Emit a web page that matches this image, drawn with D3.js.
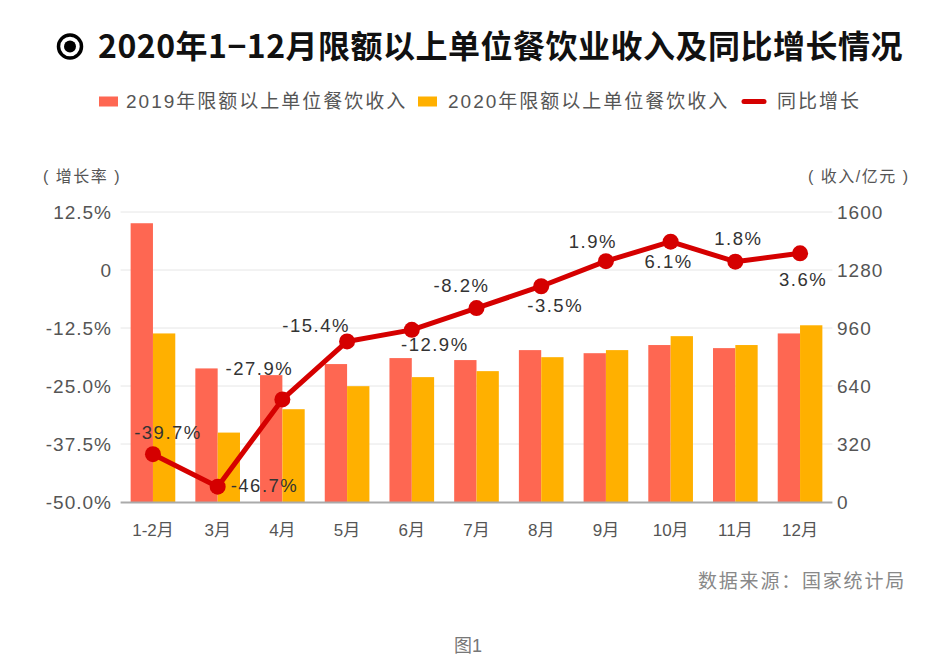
<!DOCTYPE html>
<html><head><meta charset="utf-8">
<script src="https://cdn.jsdelivr.net/npm/d3@7"></script>
<style>
html,body{margin:0;padding:0;background:#fff;}
svg{display:block;font-family:"Liberation Sans","Noto Sans CJK SC",sans-serif;}
</style></head>
<body><svg id="c" width="950" height="668"></svg>
<script>
const categories = ["1-2月","3月","4月","5月","6月","7月","8月","9月","10月","11月","12月"];
const income2019 = [1538, 737, 700, 761, 794, 783, 838, 821, 866, 849, 930];
const income2020 = [930, 383, 512, 639, 689, 722, 799, 838, 915, 866, 975];
const growth = [-39.7, -46.7, -27.9, -15.4, -12.9, -8.2, -3.5, 1.9, 6.1, 1.8, 3.6];
const leftTicks = [-50, -37.5, -25, -12.5, 0, 12.5];
const leftTickLabels = ["-50.0%","-37.5%","-25.0%","-12.5%","0","12.5%"];
const rightTicks = [0, 320, 640, 960, 1280, 1600];
const seriesNames = ["2019年限额以上单位餐饮收入","2020年限额以上单位餐饮收入","同比增长"];
// label placement relative to point: [dx, dy, anchor]
const labelPlace = [[15,-15,"middle"],[13,5,"start"],[-23,-24,"middle"],[-31,-9,"middle"],[23,21,"middle"],[-15,-16,"middle"],[14,26,"middle"],[-13,-13,"middle"],[-2,26,"middle"],[3,-17,"middle"],[3,33,"middle"]];

(function(){
const C19 = "#FE6752", C20 = "#FFB000", CL = "#D50000";
const svg = d3.select("#c");
const pTop = 212, pBottom = 502, pLeft = 120.6, pRight = 832.4;

const x = d3.scaleBand().domain(categories).range([pLeft, pRight]).paddingInner(0.31).paddingOuter(0.155);
const yL = d3.scaleLinear().domain([-50, 12.5]).range([pBottom, pTop]);
const yR = d3.scaleLinear().domain([0, 1600]).range([pBottom, pTop]);
const bw = x.bandwidth()/2;

// title
const tg = svg.append("g");
tg.append("circle").attr("cx",70).attr("cy",46.5).attr("r",11.5).attr("fill","none").attr("stroke","#000").attr("stroke-width",3.5);
tg.append("circle").attr("cx",70).attr("cy",46.5).attr("r",6).attr("fill","#000");
tg.append("text").attr("x",98).attr("y",58).attr("font-size",32).attr("font-weight","bold")
  .attr("letter-spacing","0.5px").attr("fill","#111")
  .style("font-family","'Noto Sans CJK SC','Liberation Sans',sans-serif")
  .text("2020年1−12月限额以上单位餐饮业收入及同比增长情况");

// legend
const lg = svg.append("g").attr("font-size",19).attr("fill","#555").attr("letter-spacing","2px");
lg.append("rect").attr("x",99).attr("y",96.5).attr("width",19).attr("height",10).attr("fill",C19);
lg.append("text").attr("x",126).attr("y",108).text(seriesNames[0]);
lg.append("rect").attr("x",418).attr("y",96.5).attr("width",19).attr("height",10).attr("fill",C20);
lg.append("text").attr("x",448).attr("y",108).text(seriesNames[1]);
lg.append("line").attr("x1",744).attr("x2",764).attr("y1",101.5).attr("y2",101.5).attr("stroke",CL).attr("stroke-width",5).attr("stroke-linecap","round");
lg.append("text").attr("x",777).attr("y",108).text(seriesNames[2]);

// axis titles
svg.append("text").attr("x",43).attr("y",182).attr("font-size",16).attr("fill","#555").attr("letter-spacing","1.5px").text("( 增长率 )");
svg.append("text").attr("x",808).attr("y",182).attr("font-size",16).attr("fill","#555").attr("letter-spacing","1.5px").text("( 收入/亿元 )");

// grid
svg.append("g").selectAll("line").data(leftTicks.slice(1)).join("line")
  .attr("x1",pLeft).attr("x2",pRight).attr("y1",d=>yL(d)).attr("y2",d=>yL(d))
  .attr("stroke","#e6e6e6").attr("stroke-width",1);

// left axis
const la = svg.append("g").attr("transform",`translate(112,0)`)
  .call(d3.axisLeft(yL).tickValues(leftTicks).tickSize(0).tickPadding(0).tickFormat((d,i)=>leftTickLabels[i]));
la.select(".domain").remove();
la.selectAll("text").attr("font-size",19).attr("fill","#555").attr("letter-spacing","1px");
la.attr("font-family",null);

// right axis
const ra = svg.append("g").attr("transform",`translate(837,0)`)
  .call(d3.axisRight(yR).tickValues(rightTicks).tickSize(0).tickPadding(0).tickFormat(d3.format("d")));
ra.select(".domain").remove();
ra.selectAll("text").attr("font-size",19).attr("fill","#555").attr("letter-spacing","1px");
ra.attr("font-family",null);

// bars
svg.append("g").selectAll("rect").data(income2019).join("rect")
  .attr("x",(d,i)=>x(categories[i])).attr("width",bw)
  .attr("y",d=>yR(d)).attr("height",d=>yR(0)-yR(d)).attr("fill",C19);
svg.append("g").selectAll("rect").data(income2020).join("rect")
  .attr("x",(d,i)=>x(categories[i])+bw).attr("width",bw)
  .attr("y",d=>yR(d)).attr("height",d=>yR(0)-yR(d)).attr("fill",C20);

// baseline
svg.append("line").attr("x1",pLeft).attr("x2",pRight).attr("y1",pBottom+0.5).attr("y2",pBottom+0.5).attr("stroke","#aaa").attr("stroke-width",2);

// x axis labels
const xa = svg.append("g").attr("transform",`translate(0,${pBottom})`).call(d3.axisBottom(x).tickSize(0).tickPadding(22));
xa.select(".domain").remove();
xa.selectAll("text").attr("font-size",17).attr("fill","#555");
xa.attr("font-family",null);

// line
const cx = i => x(categories[i]) + x.bandwidth()/2;
const line = d3.line().x((d,i)=>cx(i)).y(d=>yL(d));
svg.append("path").datum(growth).attr("d",line).attr("fill","none").attr("stroke",CL).attr("stroke-width",5).attr("stroke-linejoin","round");
svg.append("g").selectAll("circle").data(growth).join("circle")
  .attr("cx",(d,i)=>cx(i)).attr("cy",d=>yL(d)).attr("r",8).attr("fill",CL);

// labels
svg.append("g").selectAll("text").data(growth).join("text")
  .attr("x",(d,i)=>cx(i)+labelPlace[i][0]).attr("y",d=>yL(d)).attr("dy",(d,i)=>labelPlace[i][1])
  .attr("text-anchor",(d,i)=>labelPlace[i][2])
  .attr("font-size",18.5).attr("fill","#333").attr("letter-spacing","1.5px")
  .text(d=>d.toFixed(1)+"%");

// source
svg.append("text").attr("x",906).attr("y",588).attr("text-anchor","end").attr("font-size",19).attr("fill","#888").attr("letter-spacing","1.8px").text("数据来源：国家统计局");
svg.append("text").attr("x",468).attr("y",652).attr("text-anchor","middle").attr("font-size",18).attr("fill","#777").text("图1");
})();
</script></body></html>
